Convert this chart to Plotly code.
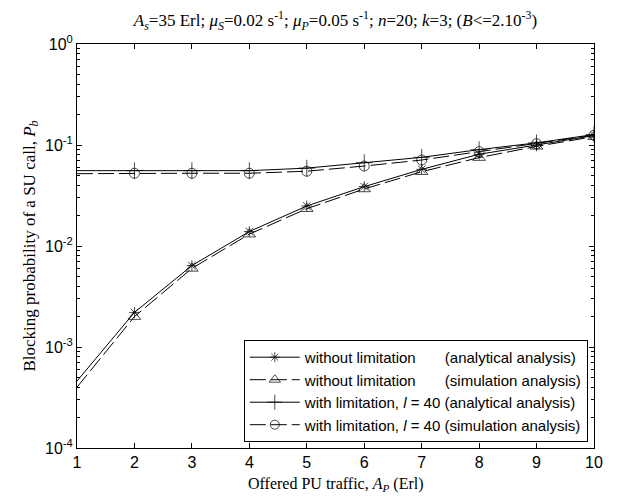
import plotly.graph_objects as go

# ---- data ----
traffic = [1, 2, 3, 4, 5, 6, 7, 8, 9, 10]
no_lim_analytical = [0.00046, 0.0022, 0.0064, 0.0139, 0.0249, 0.0387, 0.0574, 0.081, 0.100, 0.124]
no_lim_simulation = [0.00040, 0.0020, 0.0060, 0.0131, 0.0234, 0.0367, 0.0544, 0.075, 0.097, 0.121]
lim_analytical = [0.0557, 0.0557, 0.0557, 0.0557, 0.059, 0.0668, 0.0755, 0.090, 0.105, 0.127]
lim_simulation = [0.0520, 0.0525, 0.0525, 0.0525, 0.0550, 0.0619, 0.071, 0.086, 0.103, 0.125]

NB = "\u00a0"
names = [
    "without limitation" + NB * 7 + "(analytical analysis)",
    "without limitation" + NB * 7 + "(simulation analysis)",
    "with limitation, <i>l</i> = 40 (analytical analysis)",
    "with limitation, <i>l</i> = 40 (simulation analysis)",
]
y_tick_vals = [1e-4, 1e-3, 1e-2, 1e-1, 1]
y_tick_text = ["10<sup>-4</sup>", "10<sup>-3</sup>", "10<sup>-2</sup>", "10<sup>-1</sup>", "10<sup>0</sup>"]
x_title = "Offered PU traffic, <i>A</i><sub><i>P</i></sub> (Erl)"

series = [no_lim_analytical, no_lim_simulation, lim_analytical, lim_simulation]
symbols = ["asterisk-open", "triangle-up-open", "cross-thin-open", "circle-open"]
sizes = [9, 11, 12, 10]
dashes = ["solid", "16px,5px", "solid", "16px,5px"]

fig = go.Figure()
for ys, nm, sym, sz, ds in zip(series, names, symbols, sizes, dashes):
    msz = [0] + [sz] * (len(traffic) - 1)
    fig.add_trace(go.Scatter(
        x=traffic, y=ys, name=nm, mode="lines+markers",
        line=dict(color="black", width=1, dash=ds),
        marker=dict(symbol=sym, size=msz, color="black", line=dict(color="black", width=1)),
    ))

SERIF = "Liberation Serif, Times New Roman"
SANS = "Liberation Sans, Arial"

# page body has an 8px margin: the figure is offset by 8px right/down
W, H = 620, 488
L, T, R, B = 69, 36, W - 586, H - 440

fig.update_layout(
    width=W, height=H,
    margin=dict(l=L, r=R, t=T, b=B),
    paper_bgcolor="white", plot_bgcolor="white",
    font=dict(family=SANS, size=16, color="black"),
    title=dict(
        text="<i>A</i><sub><i>s</i></sub>=35 Erl; <i>μ</i><sub><i>S</i></sub>=0.02 s<sup>-1</sup>; "
             "<i>μ</i><sub><i>P</i></sub>=0.05 s<sup>-1</sup>; <i>n</i>=20; <i>k</i>=3; "
             "(<i>B</i>&lt;=2.10<sup>-3</sup>)",
        font=dict(family=SERIF, size=17, color="black"),
        x=(L + 586) / 2 / W, xanchor="center", y=1 - 12 / H, yanchor="middle",
    ),
    showlegend=True,
    legend=dict(
        x=0.988, y=0.015, xanchor="right", yanchor="bottom",
        bgcolor="white", bordercolor="black", borderwidth=1,
        font=dict(family=SANS, size=15, color="black"),
        tracegroupgap=0, itemwidth=50,
    ),
    annotations=[dict(
        text=x_title, xref="paper", yref="paper", x=0.5, y=-(476 - 440) / 404,
        xanchor="center", yanchor="middle", showarrow=False,
        font=dict(family=SERIF, size=16, color="black"),
    )],
)

fig.update_xaxes(
    range=[1, 10], tickvals=traffic, ticks="inside", ticklen=5, tickcolor="black",
    showline=True, linecolor="black", linewidth=1, mirror="ticks", showgrid=False, zeroline=False,
    tickfont=dict(family=SANS, size=16),
)
fig.update_yaxes(
    type="log", range=[-4, 0], tickvals=y_tick_vals, ticktext=y_tick_text,
    ticks="inside", ticklen=5, tickcolor="black",
    minor=dict(ticks="inside", ticklen=3, tickcolor="black", dtick="D1", showgrid=False),
    showline=True, linecolor="black", linewidth=1, mirror="ticks", showgrid=False, zeroline=False,
    tickfont=dict(family=SANS, size=16),
    title=dict(text="Blocking probability of a SU call, <i>P</i><sub><i>b</i></sub>",
               font=dict(family=SERIF, size=17), standoff=5),
)

fig.write_html("out.html")
